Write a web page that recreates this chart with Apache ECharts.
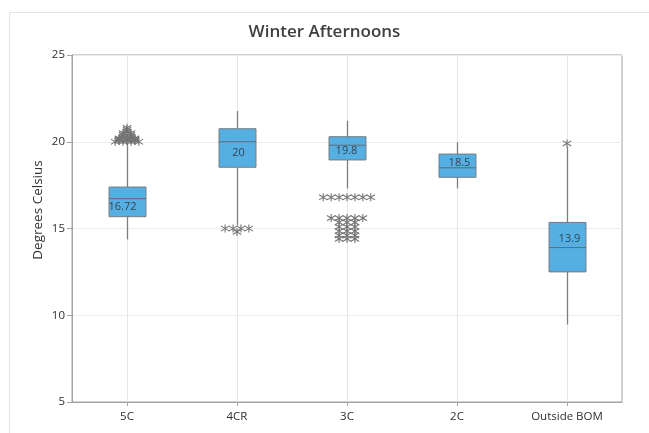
<!DOCTYPE html>
<html>
<head>
<meta charset="utf-8">
<title>Winter Afternoons</title>
<script src="https://cdn.jsdelivr.net/npm/echarts@6/dist/echarts.min.js"></script>
<style>
  html, body { margin: 0; padding: 0; background: #ffffff; }
  #chart { width: 649px; height: 433px; }
</style>
</head>
<body>
<div id="chart"></div>
<script>
// Winter afternoon temperatures by location (degrees Celsius)
const categories = ['5C', '4CR', '3C', '2C', 'Outside BOM'];
const whiskerLow  = [14.37, 15.2, 17.31, 17.31, 9.47];
const q1          = [15.68, 18.53, 18.95, 17.95, 12.5];
const medians     = [16.72, 20, 19.8, 18.5, 13.9];
const q3          = [17.39, 20.75, 20.29, 19.29, 15.35];
const whiskerHigh = [19.9, 21.77, 21.21, 19.97, 19.7];

// Outlying observations per location
const outliers5C = [20, 20, 20, 20, 20.05, 20.05, 20.05,
                    20.1, 20.1, 20.1, 20.15, 20.15, 20.15, 20.2, 20.2, 20.2,
                    20.3, 20.3, 20.4, 20.4, 20.5, 20.5, 20.6, 20.7, 20.8];
const outliers4CR = [15, 15, 15, 15, 14.8];
const outliers3C = [16.8, 16.8, 16.8, 16.8, 16.8, 16.8, 16.8,
                    15.6, 15.6, 15.6, 15.6, 15.6,
                    15.35, 15.35, 15.35, 15.1, 15.1, 15.1,
                    14.85, 14.85, 14.85, 14.6, 14.6, 14.6,
                    14.4, 14.4, 14.4];
const outliers2C = [];
const outliersOutsideBOM = [19.9];

const yTicks = [5, 10, 15, 20, 25];

// label nudges (px) for the median value text inside each box
const labelDx = [-5, 1, -1, 2, 2];
const labelDy = [5, 5, 3, -3, -8];

const outlierGroups = [outliers5C, outliers4CR, outliers3C, outliers2C, outliersOutsideBOM];

// Identical outliers are stacked side by side around the category centre
const outlierData = [];
outlierGroups.forEach(function (vals, ci) {
  const counts = {};
  vals.forEach(function (v) { counts[v] = (counts[v] || 0) + 1; });
  const seen = {};
  vals.forEach(function (v) {
    const k = seen[v] || 0;
    seen[v] = k + 1;
    outlierData.push([ci, v, k - (counts[v] - 1) / 2]);
  });
});

const boxData = categories.map(function (c, i) {
  return [i, whiskerLow[i], q1[i], medians[i], q3[i], whiskerHigh[i]];
});

const FONT = '"Open Sans", "Noto Sans", sans-serif';

function renderBox(params, api) {
  const i = api.value(0);
  const band = api.size([1, 0])[0];
  const half = band * 0.168;
  const top = api.coord([i, yTicks[yTicks.length - 1]]);
  const bottom = api.coord([i, yTicks[0]]);
  const pLo = api.coord([i, api.value(1)]);
  const pQ1 = api.coord([i, api.value(2)]);
  const pMed = api.coord([i, api.value(3)]);
  const pQ3 = api.coord([i, api.value(4)]);
  const pHi = api.coord([i, api.value(5)]);
  const cx = Math.round(pMed[0]) + 0.5;
  return {
    type: 'group',
    children: [
      { type: 'line', shape: { x1: cx, y1: top[1], x2: cx, y2: bottom[1] },
        style: { stroke: '#e6e6e6', lineWidth: 1 } },
      { type: 'line', shape: { x1: cx, y1: pHi[1], x2: cx, y2: pLo[1] },
        style: { stroke: '#7d7d7d', lineWidth: 1.3 } },
      { type: 'rect', shape: { x: cx - half, y: pQ3[1], width: half * 2, height: pQ1[1] - pQ3[1] },
        style: { fill: '#56afe3', stroke: '#747c82', lineWidth: 1 } },
      { type: 'line', shape: { x1: cx - half, y1: pMed[1], x2: cx + half, y2: pMed[1] },
        style: { stroke: '#5f6b73', lineWidth: 1 } },
      { type: 'text', x: cx + labelDx[i], y: (pQ1[1] + pQ3[1]) / 2 + labelDy[i],
        style: { text: String(medians[i]), fill: '#36444e', font: '11px ' + FONT,
                 align: 'center', verticalAlign: 'middle' } }
    ]
  };
}

function renderOutlier(params, api) {
  const p = api.coord([api.value(0), api.value(1)]);
  const band = api.size([1, 0])[0];
  const x = p[0] + api.value(2) * band * 0.072;
  const y = p[1];
  const st = { stroke: '#747474', lineWidth: 1.1 };
  return {
    type: 'group',
    children: [
      { type: 'line', shape: { x1: x, y1: y - 4, x2: x, y2: y + 4 }, style: st },
      { type: 'line', shape: { x1: x - 4.2, y1: y - 2.6, x2: x + 4.2, y2: y + 2.6 }, style: st },
      { type: 'line', shape: { x1: x - 4.2, y1: y + 2.6, x2: x + 4.2, y2: y - 2.6 }, style: st }
    ]
  };
}

const chart = echarts.init(document.getElementById('chart'), null, { renderer: 'canvas' });

chart.setOption({
  backgroundColor: '#ffffff',
  animation: false,
  title: {
    text: 'Winter Afternoons',
    left: 'center',
    top: 19,
    textStyle: { fontFamily: FONT, fontSize: 17, fontWeight: 600, color: '#3f3f3f' }
  },
  graphic: [
    { type: 'rect', left: 7, top: 10, shape: { x: 0, y: 0, width: 700, height: 500 },
      style: { fill: 'none', stroke: '#e4e4e4', lineWidth: 1 }, silent: true, z: -1 },
    { type: 'text', x: 38, y: 210, rotation: Math.PI / 2,
      style: { text: 'Degrees Celsius', font: '13.5px ' + FONT, fill: '#333333',
               align: 'center', verticalAlign: 'middle' } }
  ],
  grid: {
    left: 72, right: 27, top: 55, bottom: 31,
    show: true, borderColor: '#a3a3a3', borderWidth: 1, containLabel: false
  },
  xAxis: {
    type: 'category',
    data: categories,
    boundaryGap: true,
    axisLine: { lineStyle: { color: '#a3a3a3', width: 1 } },
    axisTick: { show: true, alignWithLabel: true, length: 4, lineStyle: { color: '#a3a3a3' } },
    axisLabel: { fontFamily: FONT, fontSize: 11.5, color: '#2f2f2f', margin: 9 },
    splitLine: { show: false }
  },
  yAxis: {
    type: 'value',
    min: yTicks[0],
    max: yTicks[yTicks.length - 1],
    interval: 5,
    axisLine: { show: true, lineStyle: { color: '#a3a3a3', width: 1 } },
    axisTick: { show: true, length: 5, lineStyle: { color: '#a3a3a3' } },
    axisLabel: { fontFamily: FONT, fontSize: 11.5, color: '#2f2f2f', margin: 7 },
    splitLine: { show: true, lineStyle: { color: '#ebebeb', width: 1 } }
  },
  series: [
    {
      type: 'custom',
      name: 'Temperature',
      renderItem: renderBox,
      encode: { x: 0, y: [1, 2, 3, 4, 5] },
      data: boxData,
      z: 2
    },
    {
      type: 'custom',
      name: 'Outliers',
      renderItem: renderOutlier,
      encode: { x: 0, y: 1 },
      data: outlierData,
      z: 3
    }
  ]
});
</script>
</body>
</html>
